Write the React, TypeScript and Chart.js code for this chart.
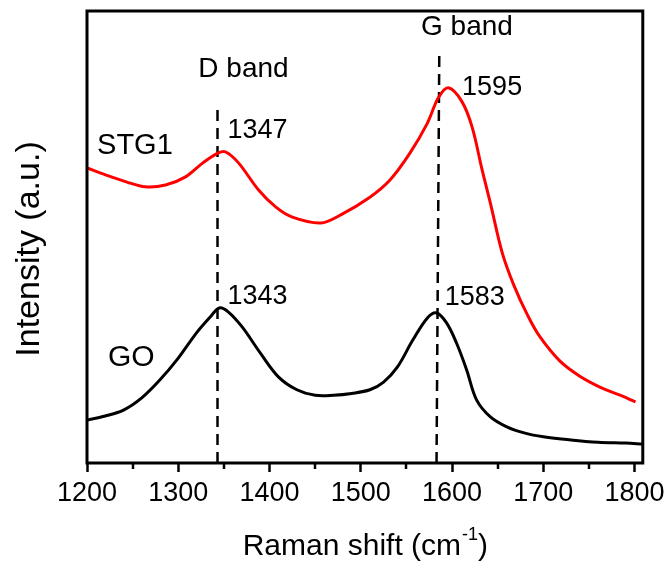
import React, { useEffect, useRef } from "react";
import { Chart, registerables } from "chart.js";

Chart.register(...registerables);

// Raman shift (cm-1) sample positions and intensities (a.u., 0-100 scale)
const stg1Shift = [1200, 1221, 1243, 1264, 1286, 1308, 1327, 1344, 1352, 1366, 1388, 1407, 1425, 1456, 1478, 1510, 1532, 1554, 1573, 1585, 1596, 1611, 1622, 1633, 1642, 1655, 1668, 1683, 1696, 1718, 1740, 1762, 1784, 1801];
const stg1Intensity = [65.3, 63.7, 62.2, 61.1, 61.5, 63.3, 66.4, 68.6, 68.8, 66.4, 60.4, 56.6, 54.4, 53.1, 54.9, 58.8, 62.6, 68.6, 75.2, 80.8, 83.0, 79.9, 74.3, 64.8, 57.5, 46.5, 39.2, 32.6, 28.0, 22.6, 19.2, 16.8, 15.0, 13.5];

const goShift = [1200, 1220, 1240, 1260, 1280, 1300, 1320, 1335, 1345, 1355, 1370, 1390, 1410, 1430, 1450, 1470, 1490, 1510, 1525, 1540, 1557, 1573, 1583, 1594, 1605, 1616, 1627, 1642, 1660, 1680, 1700, 1730, 1760, 1790, 1809];
const goIntensity = [9.5, 10.4, 11.7, 14.4, 18.4, 23.2, 28.8, 32.3, 34.3, 33.4, 30.1, 24.3, 19.0, 16.2, 15.0, 15.0, 15.4, 16.2, 17.9, 21.2, 27.2, 32.1, 33.2, 31.0, 26.5, 20.6, 13.9, 10.2, 8.0, 6.6, 5.8, 5.1, 4.6, 4.4, 4.2];

// Band marker lines
const dBandShift = [1343, 1343];
const dBandY = [0, 79.6];
const gBandShift = [1583, 1586];
const gBandY = [0, 90.3];

// Axis
const xMin = 1200;
const xMax = 1809;
const xTickValues = [1200, 1300, 1400, 1500, 1600, 1700, 1800];
const minorTicks = [1250, 1350, 1450, 1550, 1650, 1750];
const xTitleMain = "Raman shift (cm";
const xTitleSup = "-1";
const xTitleEnd = ")";
const yTitle = "Intensity (a.u.)";

// Annotations (left edge x in cm-1, vertical centre in intensity units)
const annoText = ["D band", "G band", "1347", "STG1", "1595", "1343", "1583", "GO"];
const annoX = [1322, 1566, 1354, 1211, 1611, 1354, 1592, 1223];
const annoY = [87.2, 96.3, 73.5, 70.2, 83.0, 36.9, 36.5, 23.3];
const annoSize = [28, 28, 27, 29, 27, 27, 27, 30];

const FONT = '"Liberation Sans", Arial, Helvetica, sans-serif';

const toXY = (xs: number[], ys: number[]) => xs.map((x, i) => ({ x, y: ys[i] }));

const decorPlugin = {
  id: "decor",
  afterDraw(chart: any) {
    const { ctx, chartArea, scales } = chart;
    const xs = scales.x;
    const ys = scales.y;
    ctx.save();
    // frame
    ctx.strokeStyle = "#000";
    ctx.lineWidth = 3;
    ctx.strokeRect(chartArea.left, chartArea.top, chartArea.right - chartArea.left, chartArea.bottom - chartArea.top);
    // minor ticks
    ctx.lineWidth = 2.5;
    for (const v of minorTicks) {
      const px = Math.round(xs.getPixelForValue(v));
      ctx.beginPath();
      ctx.moveTo(px, chartArea.bottom);
      ctx.lineTo(px, chartArea.bottom + 6);
      ctx.stroke();
    }
    // annotations
    ctx.fillStyle = "#000";
    ctx.textAlign = "left";
    ctx.textBaseline = "middle";
    annoText.forEach((t, i) => {
      ctx.font = `${annoSize[i]}px ${FONT}`;
      ctx.fillText(t, xs.getPixelForValue(annoX[i]), ys.getPixelForValue(annoY[i]));
    });
    // x title
    const big = `30px ${FONT}`;
    const small = `18px ${FONT}`;
    ctx.font = big;
    const w1 = ctx.measureText(xTitleMain).width;
    const w3 = ctx.measureText(xTitleEnd).width;
    ctx.font = small;
    const w2 = ctx.measureText(xTitleSup).width;
    const total = w1 + w2 + w3;
    const cx = (chartArea.left + chartArea.right) / 2;
    const ty = 547;
    let sx = cx - total / 2;
    ctx.textAlign = "left";
    ctx.textBaseline = "middle";
    ctx.font = big;
    ctx.fillText(xTitleMain, sx, ty);
    sx += w1 + 1;
    ctx.font = small;
    ctx.fillText(xTitleSup, sx, ty - 12);
    sx += w2;
    ctx.font = big;
    ctx.fillText(xTitleEnd, sx, ty);
    // y title
    ctx.translate(30, (chartArea.top + chartArea.bottom) / 2 + 12);
    ctx.rotate(-Math.PI / 2);
    ctx.textAlign = "center";
    ctx.font = `34px ${FONT}`;
    ctx.fillText(yTitle, 0, 0);
    ctx.restore();
  },
};

export default function App() {
  const ref = useRef<HTMLCanvasElement | null>(null);
  useEffect(() => {
    if (!ref.current) return;
    const chart = new Chart(ref.current, {
      type: "line",
      data: {
        datasets: [
          {
            label: "STG1",
            data: toXY(stg1Shift, stg1Intensity),
            borderColor: "#ff0000",
            borderWidth: 3,
            pointRadius: 0,
            tension: 0.35,
          },
          {
            label: "GO",
            data: toXY(goShift, goIntensity),
            borderColor: "#000000",
            borderWidth: 3,
            pointRadius: 0,
            tension: 0.35,
          },
          {
            label: "D band",
            data: toXY(dBandShift, dBandY),
            borderColor: "#000000",
            borderWidth: 2.5,
            borderDash: [11, 7],
            pointRadius: 0,
          },
          {
            label: "G band",
            data: toXY(gBandShift, gBandY),
            borderColor: "#000000",
            borderWidth: 2.5,
            borderDash: [11, 7],
            pointRadius: 0,
          },
        ],
      },
      options: {
        animation: false,
        responsive: false,
        devicePixelRatio: 1,
        layout: { padding: { left: 87, top: 11, right: 27, bottom: 0 } },
        plugins: { legend: { display: false }, tooltip: { enabled: false } },
        scales: {
          x: {
            type: "linear",
            min: xMin,
            max: xMax,
            afterBuildTicks: (scale: any) => {
              scale.ticks = xTickValues.map((v) => ({ value: v }));
            },
            afterFit: (scale: any) => {
              scale.height = 106;
            },
            ticks: {
              color: "#000",
              font: { family: FONT, size: 27 },
              padding: 5,
              maxRotation: 0,
              autoSkip: false,
              callback: (v: any) => String(v),
            },
            grid: {
              display: true,
              drawOnChartArea: false,
              drawTicks: true,
              tickLength: 9,
              tickColor: "#000",
              tickWidth: 2.5,
            },
            border: { display: false },
          },
          y: {
            display: false,
            min: 0,
            max: 100,
          },
        },
      },
      plugins: [decorPlugin],
    });
    return () => chart.destroy();
  }, []);
  return (
    <div style={{ position: "absolute", left: 0, top: 0, width: 670, height: 569, background: "#fff" }}>
      <canvas ref={ref} width={670} height={569} />
    </div>
  );
}
